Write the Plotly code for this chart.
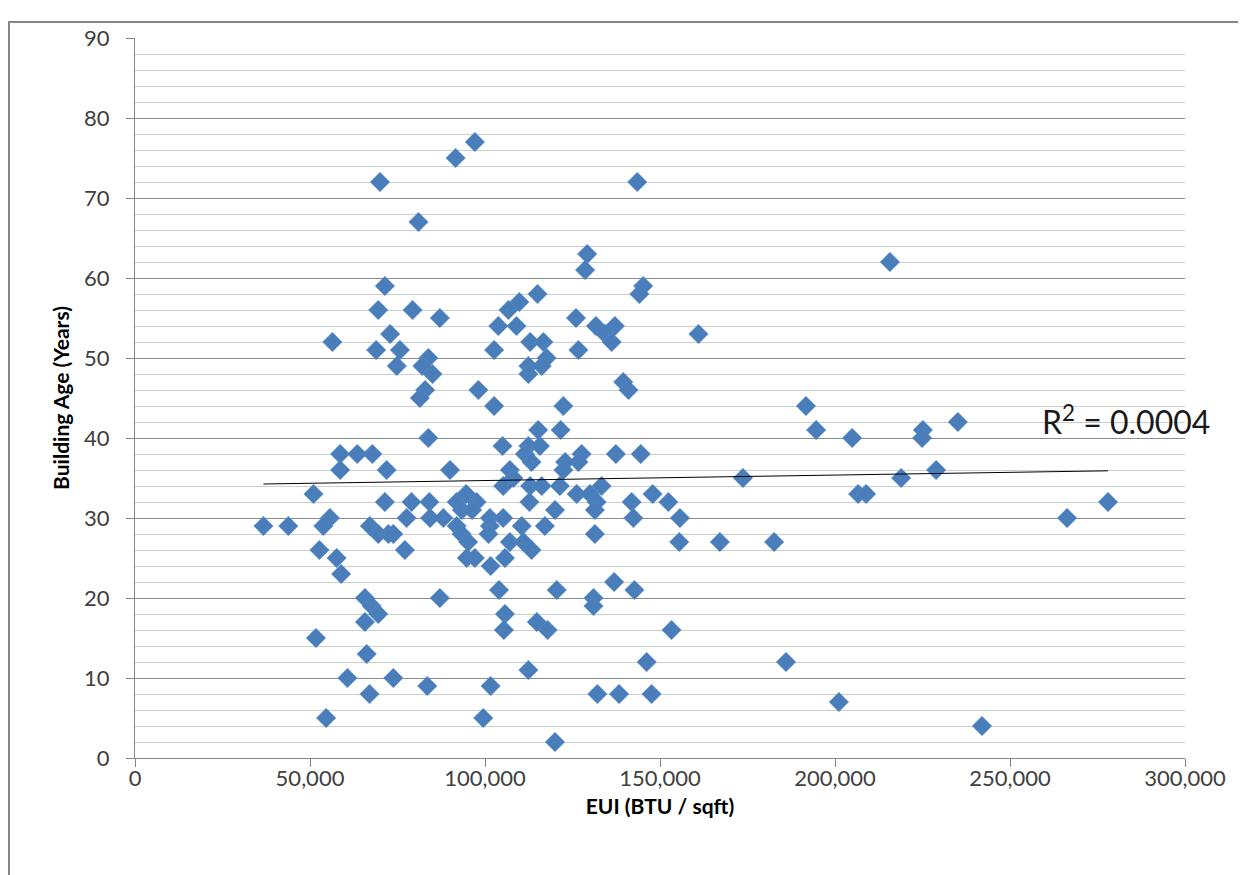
import plotly.graph_objects as go

# EUI (BTU / sqft) and Building Age (Years)
eui = [
    97100, 91600, 70000, 143500, 81000, 129200, 128600, 215700, 71400, 145200,
    144100, 115000, 109800, 106700, 69500, 79300, 87100, 126000, 161000, 72900,
    103800, 109000, 131700, 137100, 134300, 136200, 56400, 112900, 116700, 68900,
    75700, 102600, 126700, 83800, 117600, 74800, 82100, 112400, 116200, 85000,
    112400, 139500, 141000, 82900, 98100, 81400, 191700, 102600, 122400, 194600,
    225100, 224900, 204900, 235100, 83800, 115200, 121600, 105000, 112400, 115700,
    111400, 113300, 58600, 63500, 67800, 137400, 144500, 127600, 126700, 122900,
    122400, 58600, 71900, 90000, 107100, 108100, 105200, 173700, 218900, 228900,
    112900, 116200, 121400, 133300, 126200, 130000, 131900, 147900, 152400, 141900,
    206600, 208900, 51000, 71400, 79000, 84100, 91900, 97600, 112700, 120000,
    155700, 101400, 105200, 266300, 278000, 94600, 93400, 96300,
    36700, 43800, 55700, 53800, 67100, 69500, 72400, 73800, 77600, 84300,
    88100, 91900, 93300, 95200, 94800, 77100, 52700, 57600, 58900, 87100,
    65700, 67600, 69500, 65700, 51700, 66200, 60700, 73800, 67000, 83500,
    54600, 101400, 110500, 101000, 107100, 111000, 113300, 105700, 97100, 101600,
    117100, 131400, 131400, 142400, 155500, 104000, 120500, 136900, 142700, 131000,
    131000, 105700, 114800, 117900, 105400, 153300, 146200, 112400, 101600, 132100,
    138300, 147600, 99500, 120000, 167100, 182600, 186000, 201100, 242000,
]
age = [
    77, 75, 72, 72, 67, 63, 61, 62, 59, 59,
    58, 58, 57, 56, 56, 56, 55, 55, 53, 53,
    54, 54, 54, 54, 53, 52, 52, 52, 52, 51,
    51, 51, 51, 50, 50, 49, 49, 49, 49, 48,
    48, 47, 46, 46, 46, 45, 44, 44, 44, 41,
    41, 40, 40, 42, 40, 41, 41, 39, 39, 39,
    38, 37, 38, 38, 38, 38, 38, 38, 37, 37,
    36, 36, 36, 36, 36, 35, 34, 35, 35, 36,
    34, 34, 34, 34, 33, 33, 32, 33, 32, 32,
    33, 33, 33, 32, 32, 32, 32, 32, 32, 31,
    30, 30, 30, 30, 32, 33, 31, 31,
    29, 29, 30, 29, 29, 28, 28, 28, 30, 30,
    30, 29, 28, 27, 25, 26, 26, 25, 23, 20,
    20, 19, 18, 17, 15, 13, 10, 10, 8, 9,
    5, 29, 29, 28, 27, 27, 26, 25, 25, 24,
    29, 31, 28, 30, 27, 21, 21, 22, 21, 20,
    19, 18, 17, 16, 16, 16, 12, 11, 9, 8,
    8, 8, 5, 2, 27, 27, 12, 7, 4,
]

# Linear trendline end points as drawn in the reference
trend_x = [36700, 278000]
trend_y = [34.25, 35.9]
r2_label = "R<sup>2</sup> = 0.0004"

x_ticks = [0, 50000, 100000, 150000, 200000, 250000, 300000]
y_ticks = [0, 10, 20, 30, 40, 50, 60, 70, 80, 90]

FONT = "Lato, 'Open Sans', sans-serif"
BLUE = "#4a7ebb"

fig = go.Figure()
fig.add_trace(go.Scatter(
    x=eui, y=age, mode="markers",
    marker=dict(symbol="diamond", size=15, color=BLUE,
                line=dict(width=0.5, color="#5b8cc6")),
    showlegend=False, hoverinfo="x+y",
))
fig.add_trace(go.Scatter(
    x=trend_x, y=trend_y, mode="lines",
    line=dict(color="#000000", width=1),
    showlegend=False, hoverinfo="skip",
))

fig.update_layout(
    width=1246, height=875,
    margin=dict(l=127, r=69, t=30, b=125),
    paper_bgcolor="white", plot_bgcolor="white",
    font=dict(family=FONT, color="#404040"),
    xaxis=dict(
        range=[0, 300000], tickvals=x_ticks, tickformat=",",
        showgrid=False, zeroline=False,
        showline=True, linecolor="#868686", linewidth=1,
        ticks="outside", ticklen=8, tickcolor="#868686",
        ticklabelstandoff=-7,
        tickfont=dict(size=22, color="#404040", family=FONT),
        title=dict(text="<b>EUI (BTU / sqft)</b>",
                   font=dict(size=21, color="#000000", family=FONT),
                   standoff=8),
    ),
    yaxis=dict(
        range=[0, 90], tickvals=y_ticks,
        showgrid=True, gridcolor="#8c8c8c", gridwidth=1,
        minor=dict(dtick=2, showgrid=True, gridcolor="#cccccc", gridwidth=1),
        zeroline=False,
        showline=True, linecolor="#868686", linewidth=1,
        ticks="outside", ticklen=8, tickcolor="#868686",
        ticklabelstandoff=12,
        tickfont=dict(size=22, color="#404040", family=FONT),
        title=dict(text="<b>Building Age (Years)</b>",
                   font=dict(size=21, color="#000000", family=FONT),
                   standoff=8),
    ),
    shapes=[dict(
        type="rect", xref="paper", yref="paper",
        x0=-0.12, x1=1.2, y0=-0.3, y1=1.0222,
        line=dict(color="#868686", width=2), fillcolor="rgba(0,0,0,0)",
        layer="below",
    )],
    annotations=[dict(
        text=r2_label, xref="paper", yref="paper",
        x=0.862, y=0.469, xanchor="left", yanchor="middle",
        showarrow=False,
        font=dict(size=32, color="#1a1a1a", family=FONT),
    )],
)

fig.write_html("out.html")
